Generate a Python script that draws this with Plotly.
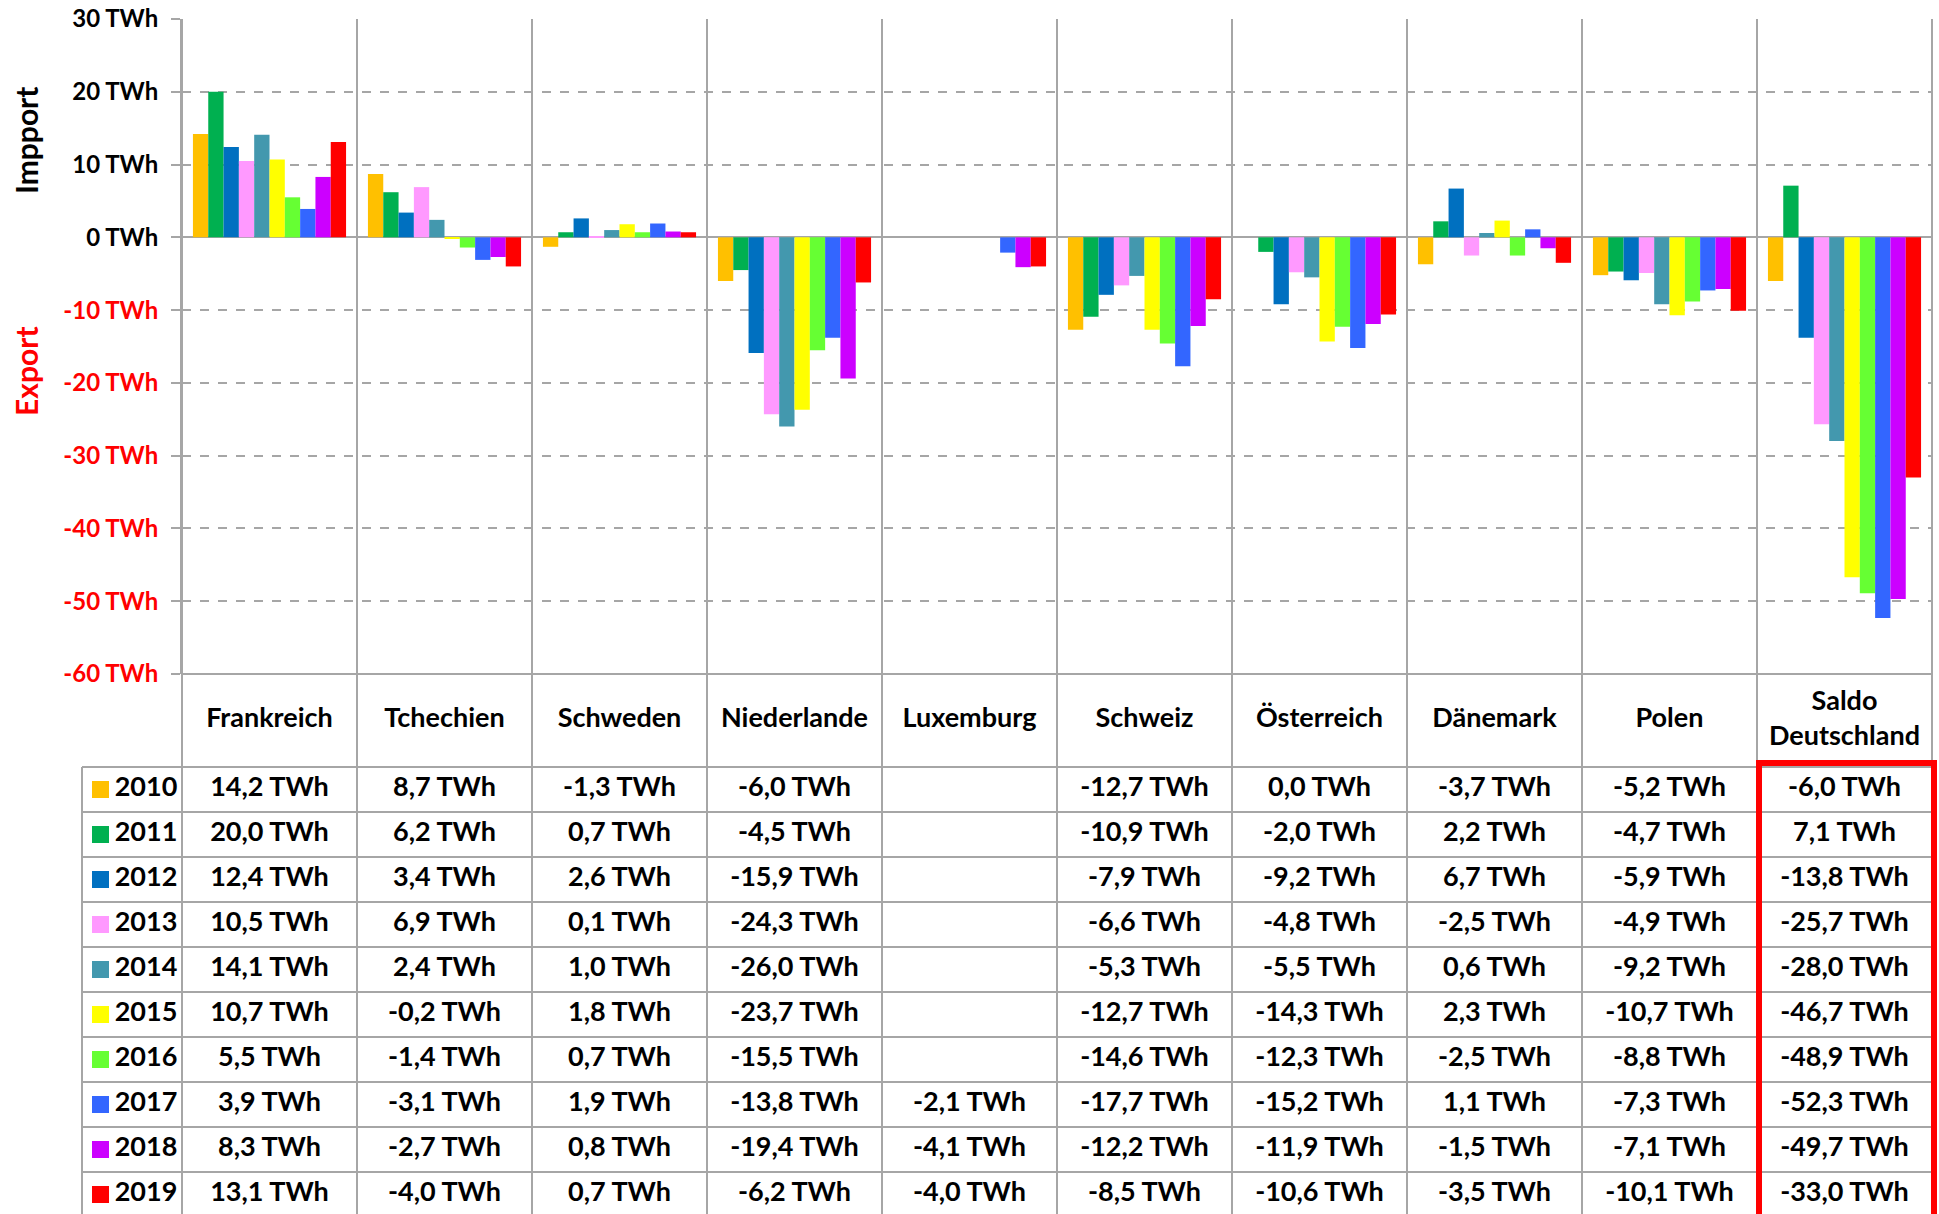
import plotly.graph_objects as go

# ---------------- data ----------------
categories = ["Frankreich", "Tchechien", "Schweden", "Niederlande", "Luxemburg",
              "Schweiz", "Österreich", "Dänemark", "Polen", "Saldo Deutschland"]
header_labels = ["Frankreich", "Tchechien", "Schweden", "Niederlande", "Luxemburg",
                 "Schweiz", "Österreich", "Dänemark", "Polen", "Saldo<br>Deutschland"]
years = [2010, 2011, 2012, 2013, 2014, 2015, 2016, 2017, 2018, 2019]

v2010 = [14.2, 8.7, -1.3, -6.0, None, -12.7, 0.0, -3.7, -5.2, -6.0]
v2011 = [20.0, 6.2, 0.7, -4.5, None, -10.9, -2.0, 2.2, -4.7, 7.1]
v2012 = [12.4, 3.4, 2.6, -15.9, None, -7.9, -9.2, 6.7, -5.9, -13.8]
v2013 = [10.5, 6.9, 0.1, -24.3, None, -6.6, -4.8, -2.5, -4.9, -25.7]
v2014 = [14.1, 2.4, 1.0, -26.0, None, -5.3, -5.5, 0.6, -9.2, -28.0]
v2015 = [10.7, -0.2, 1.8, -23.7, None, -12.7, -14.3, 2.3, -10.7, -46.7]
v2016 = [5.5, -1.4, 0.7, -15.5, None, -14.6, -12.3, -2.5, -8.8, -48.9]
v2017 = [3.9, -3.1, 1.9, -13.8, -2.1, -17.7, -15.2, 1.1, -7.3, -52.3]
v2018 = [8.3, -2.7, 0.8, -19.4, -4.1, -12.2, -11.9, -1.5, -7.1, -49.7]
v2019 = [13.1, -4.0, 0.7, -6.2, -4.0, -8.5, -10.6, -3.5, -10.1, -33.0]
series = [v2010, v2011, v2012, v2013, v2014, v2015, v2016, v2017, v2018, v2019]

colors = ["#FFC000", "#00B050", "#0070C0", "#FF99FF", "#4398AE",
          "#FFFF00", "#66FF33", "#3366FF", "#CC00FF", "#FF0000"]

tick_vals = [30, 20, 10, 0, -10, -20, -30, -40, -50, -60]

# ---------------- layout geometry (pixels) ----------------
W, H = 1939, 1214
plot_left, plot_right = 182, 1932
plot_top, plot_bottom = 19, 674
cat_w = (plot_right - plot_left) / len(categories)   # 175 px
legend_left = 82
header_bottom = 767
row_h = 45.0
font_family = "Lato"
grid_col = "#A6A6A6"
table_font = 27

def px_x(p):
    return p / W

def px_y(p):
    return 1 - p / H

def x2_of_px(p):
    return -0.5 + (p - plot_left) / cat_w

def y2_of_px(p):
    return -0.5 + (p - header_bottom) / row_h

def fmt(v):
    if v is None:
        return ""
    return f"{v:.1f}".replace(".", ",") + " TWh"

fig = go.Figure()

for yr, vals, col in zip(years, series, colors):
    fig.add_trace(go.Bar(x=categories, y=vals, name=str(yr), marker_color=col,
                         marker_line_width=0, xaxis="x", yaxis="y",
                         showlegend=False, hoverinfo="x+y+name"))

tx, ty, tt = [], [], []
for r, vals in enumerate(series):
    for c, v in enumerate(vals):
        tx.append(c)
        ty.append(r)
        tt.append(fmt(v))
fig.add_trace(go.Scatter(x=tx, y=ty, text=tt, mode="text", xaxis="x2", yaxis="y2",
                         textfont=dict(family=font_family, size=table_font, color="black", weight="bold"),
                         showlegend=False, hoverinfo="skip", cliponaxis=False))

header_y = -0.5 - (header_bottom - plot_bottom) / row_h / 2
fig.add_trace(go.Scatter(x=list(range(len(categories))), y=[header_y] * len(categories),
                         text=header_labels, mode="text", xaxis="x2", yaxis="y2",
                         textfont=dict(family=font_family, size=table_font, color="black", weight="bold"),
                         showlegend=False, hoverinfo="skip", cliponaxis=False))

fig.add_trace(go.Scatter(x=[x2_of_px(100.5)] * len(years), y=list(range(len(years))),
                         mode="markers", xaxis="x2", yaxis="y2",
                         marker=dict(symbol="square", size=17, color=colors, line_width=0),
                         showlegend=False, hoverinfo="skip", cliponaxis=False))
fig.add_trace(go.Scatter(x=[x2_of_px(146)] * len(years), y=list(range(len(years))),
                         text=[str(y) for y in years], mode="text", xaxis="x2", yaxis="y2",
                         textfont=dict(family=font_family, size=table_font, color="black", weight="bold"),
                         showlegend=False, hoverinfo="skip", cliponaxis=False))

shapes = []
top_paper = px_y(plot_top)
for k in range(len(categories) + 1):
    shapes.append(dict(type="line", xref="x2", yref="paper",
                       x0=-0.5 + k, x1=-0.5 + k, y0=0, y1=top_paper,
                       line=dict(color=grid_col, width=2), layer="above"))
shapes.append(dict(type="line", xref="x2", yref="paper",
                   x0=x2_of_px(legend_left), x1=x2_of_px(legend_left),
                   y0=0, y1=px_y(header_bottom),
                   line=dict(color=grid_col, width=2), layer="above"))
for r in range(len(years) + 1):
    yy = px_y(header_bottom + r * row_h)
    shapes.append(dict(type="line", xref="x2", yref="paper",
                       x0=x2_of_px(legend_left), x1=len(categories) - 0.5, y0=yy, y1=yy,
                       line=dict(color=grid_col, width=2), layer="above"))
shapes.append(dict(type="line", xref="x2", yref="paper",
                   x0=-0.5, x1=len(categories) - 0.5, y0=px_y(plot_bottom), y1=px_y(plot_bottom),
                   line=dict(color=grid_col, width=2), layer="above"))
shapes.append(dict(type="rect", xref="x2", yref="paper",
                   x0=x2_of_px(1759), x1=x2_of_px(1934),
                   y0=px_y(1230), y1=px_y(763),
                   line=dict(color="#FF0000", width=6), fillcolor="rgba(0,0,0,0)", layer="above"))

ticktext = []
for v in tick_vals:
    lab = f"{v} TWh"
    if v < 0:
        lab = f'<span style="color:#FF0000">{lab}</span>'
    ticktext.append(lab)

fig.update_layout(
    width=W, height=H,
    margin=dict(l=0, r=0, t=0, b=0, autoexpand=False),
    paper_bgcolor="white", plot_bgcolor="white",
    font=dict(family=font_family, size=24, color="black", weight="bold"),
    barmode="group", bargap=0.125, bargroupgap=0,
    xaxis=dict(domain=[px_x(plot_left), px_x(plot_right)], type="category",
               categoryorder="array", categoryarray=categories,
               range=[-0.5, len(categories) - 0.5], automargin=False,
               showticklabels=False, showgrid=False, zeroline=False,
               showline=False, fixedrange=True),
    yaxis=dict(domain=[px_y(plot_bottom), px_y(plot_top)], range=[-60, 30],
               tickvals=tick_vals, ticktext=ticktext, automargin=False,
               tickfont=dict(family=font_family, size=24, color="black", weight="bold"),
               showgrid=True, gridcolor=grid_col, griddash="dash", gridwidth=1.5,
               zeroline=True, zerolinecolor=grid_col, zerolinewidth=2,
               showline=True, linecolor=grid_col, linewidth=2,
               ticks="outside", ticklen=9, tickcolor=grid_col, tickwidth=1.5,
               ticklabelstandoff=8, fixedrange=True),
    xaxis2=dict(domain=[0, 1], range=[x2_of_px(0), x2_of_px(W)], visible=False,
                anchor="y2", fixedrange=True, automargin=False),
    yaxis2=dict(domain=[0, px_y(plot_bottom)],
                range=[y2_of_px(H), y2_of_px(plot_bottom)], visible=False,
                anchor="x2", fixedrange=True, automargin=False),
    shapes=shapes,
    annotations=[
        dict(text="Impport", xref="paper", yref="paper", x=px_x(26), y=px_y(141),
             xanchor="center", yanchor="middle",
             showarrow=False, textangle=-90,
             font=dict(family=font_family, size=30, color="black", weight="bold")),
        dict(text="Export", xref="paper", yref="paper", x=px_x(26), y=px_y(371),
             xanchor="center", yanchor="middle",
             showarrow=False, textangle=-90,
             font=dict(family=font_family, size=30, color="#FF0000", weight="bold")),
    ],
)

fig.write_html("out.html", config={"displayModeBar": False},
               post_script="document.body.style.margin='0';document.body.style.padding='0';")
